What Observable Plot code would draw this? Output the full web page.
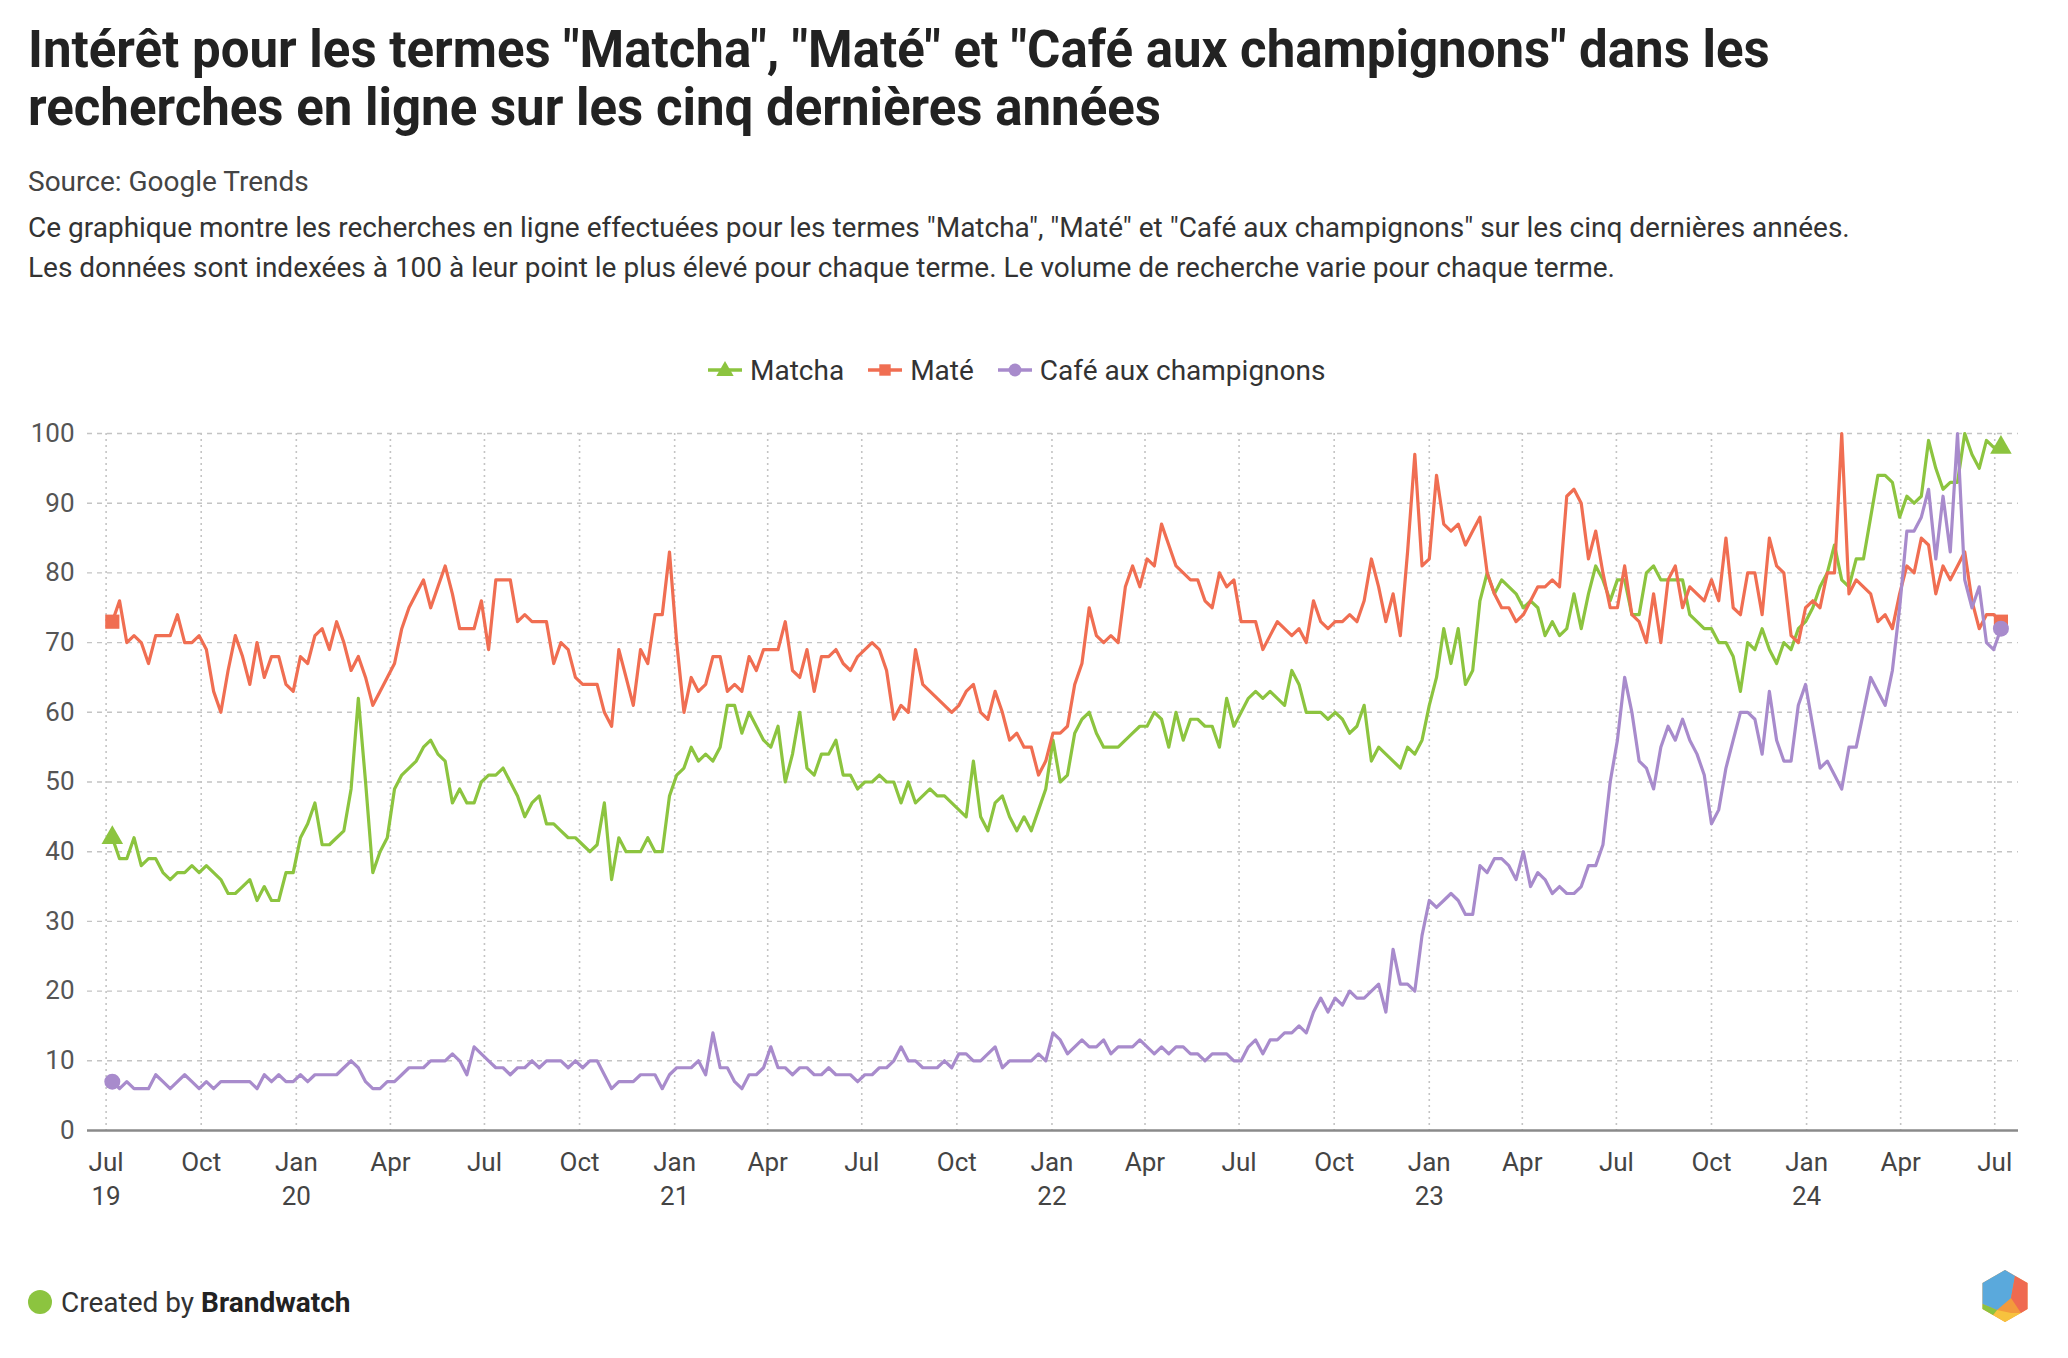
<!DOCTYPE html>
<html><head><meta charset="utf-8">
<script src="https://cdn.jsdelivr.net/npm/d3@7"></script>
<script src="https://cdn.jsdelivr.net/npm/@observablehq/plot@0.6"></script>
<style>
html,body{margin:0;padding:0;background:#fff;}
body{width:2068px;height:1358px;position:relative;font-family:Roboto,"Noto Sans",sans-serif;color:#333;overflow:hidden}
#title{position:absolute;left:28px;top:21px;font-size:51px;font-weight:700;line-height:58px;color:#222;margin:0;width:2040px}
#source{position:absolute;left:28px;top:167px;font-size:28px;line-height:30px;color:#444}
#desc{position:absolute;left:28px;top:208px;font-size:28px;line-height:40px;color:#333}
#legend{position:absolute;left:708px;top:352px;height:36px;display:flex;align-items:center;font-size:28px;color:#333}
#legend .item{display:flex;align-items:center;margin-right:24px}
#legend svg{margin-right:8px}
#chart{position:absolute;left:0;top:395px}
#footer{position:absolute;left:28px;top:1284px;height:36px;display:flex;align-items:center;font-size:28px;color:#333}
#footer .dot{width:24px;height:24px;border-radius:50%;background:#8cc43f;margin-right:9px}
#logo{position:absolute;left:1975px;top:1266px}
</style></head>
<body>
<div id="title">Intérêt pour les termes "Matcha", "Maté" et "Café aux champignons" dans les<br>recherches en ligne sur les cinq dernières années</div>
<div id="source">Source: Google Trends</div>
<div id="desc">Ce graphique montre les recherches en ligne effectuées pour les termes "Matcha", "Maté" et "Café aux champignons" sur les cinq dernières années.<br>Les données sont indexées à 100 à leur point le plus élevé pour chaque terme. Le volume de recherche varie pour chaque terme.</div>
<div id="legend"></div>
<div id="chart"></div>
<div id="footer"><div class="dot"></div><span>Created by <b style="color:#222">Brandwatch</b></span></div>
<svg id="logo" width="60" height="60" viewBox="-30 -30 60 60">
  <polygon points="0,-26 22.5,-13 22.5,13 0,26 -22.5,13 -22.5,-13" fill="#f39a3c"/>
  <polygon points="0,-26 10,-20 6,2 -8,14 -22.5,8 -22.5,-13" fill="#5aa9dc"/>
  <polygon points="0,-26 22.5,-13 10,-20" fill="#9b87c4"/>
  <polygon points="10,-20 22.5,-13 22.5,13 16,17 6,2" fill="#ef6a50"/>
  <polygon points="-8,14 6,17 16,17 0,26 -12,19" fill="#f7c23e"/>
  <polygon points="-22.5,8 -8,14 -12,19 -22.5,13" fill="#8cc43f"/>
</svg>
<script>
// ---- Data (weekly Google Trends index, first week 2019-07-07) ----
const terms = ["Matcha", "Maté", "Café aux champignons"];
const colors = ["#8cc43f", "#f06e52", "#a88bcc"];
const symbols = ["triangle", "square", "circle"];
const firstWeek = "2019-07-07";

const matcha = [
42,39,39,42,38,39,39,37,36,37,
37,38,37,38,37,36,34,34,35,36,
33,35,33,33,37,37,42,44,47,41,
41,42,43,49,62,50,37,40,42,49,
51,52,53,55,56,54,53,47,49,47,
47,50,51,51,52,50,48,45,47,48,
44,44,43,42,42,41,40,41,47,36,
42,40,40,40,42,40,40,48,51,52,
55,53,54,53,55,61,61,57,60,58,
56,55,58,50,54,60,52,51,54,54,
56,51,51,49,50,50,51,50,50,47,
50,47,48,49,48,48,47,46,45,53,
45,43,47,48,45,43,45,43,46,49,
56,50,51,57,59,60,57,55,55,55,
56,57,58,58,60,59,55,60,56,59,
59,58,58,55,62,58,60,62,63,62,
63,62,61,66,64,60,60,60,59,60,
59,57,58,61,53,55,54,53,52,55,
54,56,61,65,72,67,72,64,66,76,
80,77,79,78,77,75,76,75,71,73,
71,72,77,72,77,81,79,76,79,79,
74,74,80,81,79,79,79,79,74,73,
72,72,70,70,68,63,70,69,72,69,
67,70,69,72,73,75,78,80,84,79,
78,82,82,88,94,94,93,88,91,90,
91,99,95,92,93,93,100,97,95,99,
98,98];

const mate = [
73,76,70,71,70,67,71,71,71,74,
70,70,71,69,63,60,66,71,68,64,
70,65,68,68,64,63,68,67,71,72,
69,73,70,66,68,65,61,63,65,67,
72,75,77,79,75,78,81,77,72,72,
72,76,69,79,79,79,73,74,73,73,
73,67,70,69,65,64,64,64,60,58,
69,65,61,69,67,74,74,83,70,60,
65,63,64,68,68,63,64,63,68,66,
69,69,69,73,66,65,69,63,68,68,
69,67,66,68,69,70,69,66,59,61,
60,69,64,63,62,61,60,61,63,64,
60,59,63,60,56,57,55,55,51,53,
57,57,58,64,67,75,71,70,71,70,
78,81,78,82,81,87,84,81,80,79,
79,76,75,80,78,79,73,73,73,69,
71,73,72,71,72,70,76,73,72,73,
73,74,73,76,82,78,73,77,71,83,
97,81,82,94,87,86,87,84,86,88,
80,77,75,75,73,74,76,78,78,79,
78,91,92,90,82,86,80,75,75,81,
74,73,70,77,70,79,81,75,78,77,
76,79,76,85,75,74,80,80,74,85,
81,80,71,70,75,76,75,80,80,100,
77,79,78,77,73,74,72,77,81,80,
85,84,77,81,79,81,83,76,72,74,
74,73];

const cafe = [
7,6,7,6,6,6,8,7,6,7,
8,7,6,7,6,7,7,7,7,7,
6,8,7,8,7,7,8,7,8,8,
8,8,9,10,9,7,6,6,7,7,
8,9,9,9,10,10,10,11,10,8,
12,11,10,9,9,8,9,9,10,9,
10,10,10,9,10,9,10,10,8,6,
7,7,7,8,8,8,6,8,9,9,
9,10,8,14,9,9,7,6,8,8,
9,12,9,9,8,9,9,8,8,9,
8,8,8,7,8,8,9,9,10,12,
10,10,9,9,9,10,9,11,11,10,
10,11,12,9,10,10,10,10,11,10,
14,13,11,12,13,12,12,13,11,12,
12,12,13,12,11,12,11,12,12,11,
11,10,11,11,11,10,10,12,13,11,
13,13,14,14,15,14,17,19,17,19,
18,20,19,19,20,21,17,26,21,21,
20,28,33,32,33,34,33,31,31,38,
37,39,39,38,36,40,35,37,36,34,
35,34,34,35,38,38,41,50,56,65,
60,53,52,49,55,58,56,59,56,54,
51,44,46,52,56,60,60,59,54,63,
56,53,53,61,64,58,52,53,51,49,
55,55,60,65,63,61,66,75,86,86,
88,92,82,91,83,100,79,75,78,70,
69,72];

const yTicks = [0,10,20,30,40,50,60,70,80,90,100];
const monthNames = ["Jan","Feb","Mar","Apr","May","Jun","Jul","Aug","Sep","Oct","Nov","Dec"];

// ---- Build table ----
const start = new Date(firstWeek + "T00:00:00Z");
const seriesValues = [matcha, mate, cafe];
const rows = [];
seriesValues.forEach((vals, s) => vals.forEach((v, i) => rows.push({date: d3.utcDay.offset(start, 7 * i), value: v, term: terms[s]})));
const ends = [];
seriesValues.forEach((vals, s) => {
  const sub = rows.filter(r => r.term === terms[s]);
  ends.push(sub[0], sub[sub.length - 1]);
});

const xTicks = d3.utcMonth.every(3).range(new Date(Date.UTC(2019,6,1)), new Date(Date.UTC(2024,6,2)));
const firstTick = +xTicks[0];
const fmt = d => {
  const m = monthNames[d.getUTCMonth()];
  const yy = String(d.getUTCFullYear()).slice(2);
  return (d.getUTCMonth() === 0 || +d === firstTick) ? `${m}\n${yy}` : m;
};

const chart = Plot.plot({
  width: 2068, height: 840,
  marginLeft: 87, marginRight: 50, marginTop: 38, marginBottom: 105,
  style: {fontFamily: "Roboto, sans-serif", fontSize: "26px", background: "transparent", overflow: "visible"},
  x: {type: "utc", domain: [new Date(Date.UTC(2019,5,13)), new Date(Date.UTC(2024,6,24))], label: null},
  y: {domain: [0, 100], label: null},
  color: {domain: terms, range: colors},
  symbol: {domain: terms, range: symbols},
  marks: [
    Plot.gridY(yTicks.slice(1), {stroke: "#c4c4c4", strokeOpacity: 1, strokeDasharray: "5,5", strokeWidth: 1.4}),
    Plot.gridX(xTicks, {stroke: "#c4c4c4", strokeOpacity: 1, strokeDasharray: "2,4", strokeWidth: 1.6}),
    Plot.ruleY([0], {stroke: "#8a8a8a", strokeWidth: 2.5}),
    Plot.axisY(yTicks, {tickSize: 0, tickPadding: 13, fill: "#555", label: null}),
    Plot.axisX(xTicks, {tickSize: 0, tickPadding: 16, tickFormat: fmt, fill: "#444", lineHeight: 1.32, label: null}),
    Plot.line(rows, {x: "date", y: "value", z: "term", stroke: "term", strokeWidth: 3.2, strokeLinejoin: "round"}),
    Plot.dot(ends, {x: "date", y: "value", symbol: "term", fill: "term", r: 8})
  ]
});
document.getElementById("chart").appendChild(chart);

// ---- Legend ----
const legend = document.getElementById("legend");
terms.forEach((t, i) => {
  const item = document.createElement("div");
  item.className = "item";
  const sym = d3.symbol().type(i === 0 ? d3.symbolTriangle : i === 1 ? d3.symbolSquare : d3.symbolCircle).size(130)();
  item.innerHTML = `<svg width="34" height="24" viewBox="0 0 34 24"><line x1="0" x2="34" y1="12" y2="12" stroke="${colors[i]}" stroke-width="3.5"/><path transform="translate(17,${i===0?13:12})" d="${sym}" fill="${colors[i]}"/></svg><span>${t}</span>`;
  legend.appendChild(item);
});
</script>
</body></html>
